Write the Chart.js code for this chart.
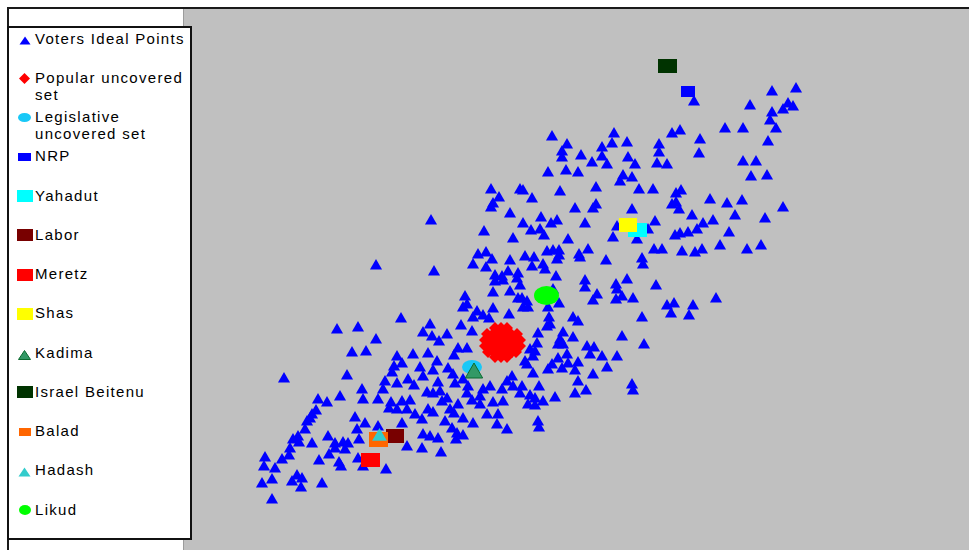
<!DOCTYPE html>
<html>
<head>
<meta charset="utf-8">
<title>Voters ideal points and party positions</title>
<script src="https://cdn.jsdelivr.net/npm/chart.js@4.4.1/dist/chart.umd.min.js"></script>
<style>
  html, body { margin: 0; padding: 0; background: #fff; }
  #page { position: relative; width: 969px; height: 550px; overflow: hidden; background: #fff; }
  #frameTop { position: absolute; left: 7px; top: 7px; width: 962px; height: 2px; background: #1a1a1a; }
  #frameLeft { position: absolute; left: 7px; top: 7px; width: 2px; height: 543px; background: #1a1a1a; }
  #plot { position: absolute; left: 183px; top: 9px; width: 786px; height: 541px; background: #c0c0c0; }
  #plotEdge { position: absolute; left: 183px; top: 9px; width: 1px; height: 541px; background: #9c9c9c; }
  #legend { position: absolute; left: 7px; top: 26px; width: 185px; height: 514px; box-sizing: border-box;
            border: 2px solid #111; background: #fff; }
  .item { position: absolute; left: 26px; width: 156px; font-family: "Liberation Sans", Arial, sans-serif;
          font-size: 15px; line-height: 17px; letter-spacing: 1.3px; color: #000; white-space: normal; }
  .mark { position: absolute; }
</style>
</head>
<body>
<div id="page">
  <div id="plot"><canvas id="chart" width="786" height="541"></canvas></div>
  <div id="plotEdge"></div>
  <div id="frameTop"></div>
  <div id="frameLeft"></div>
  <div id="legend"></div>
</div>
<script>
// Axis ranges (policy space units)
const xRange = [0, 786];
const yRange = [0, 541];

// Series names, in legend order
const seriesNames = [
  'Voters Ideal Points', 'Popular uncovered set', 'Legislative uncovered set',
  'NRP', 'Yahadut', 'Labor', 'Meretz', 'Shas', 'Kadima', 'Israel Beitenu', 'Balad', 'Hadash', 'Likud'
];

// Voter ideal points [x, y]
const voters = [
  [511,448],[589,458],[613,461],[567,444],[605,446],[610,443],[600,440],[589,437],[587,429],[593,421],
  [542,421],[560,421],[585,408],[369,413],[431,416],[489,416],[497,419],[517,410],[384,405],[429,406],
  [444,407],[476,405],[476,397],[516,396],[379,398],[379,392],[398,394],[419,402],[419,393],[409,387],
  [424,385],[445,392],[452,385],[474,386],[484,385],[560,388],[573,388],[365,377],[383,379],[395,377],
  [440,374],[437,368],[449,372],[568,373],[584,374],[340,359],[377,358],[413,362],[456,360],[470,360],
  [493,356],[498,359],[349,351],[527,350],[544,346],[559,349],[489,345],[493,347],[496,340],[392,341],
  [413,345],[410,341],[449,340],[600,342],[509,334],[552,334],[358,332],[374,329],[368,326],[340,326],
  [402,326],[472,328],[530,329],[520,326],[582,331],[434,323],[465,320],[348,319],[357,320],[361,314],
  [492,314],[497,316],[505,317],[514,320],[546,317],[385,310],[430,312],[454,310],[537,304],[564,300],
  [578,304],[405,300],[471,300],[479,300],[499,298],[512,297],[519,300],[364,298],[370,299],[376,299],
  [376,294],[374,290],[396,295],[397,292],[342,293],[351,292],[423,289],[459,291],[460,285],[349,283],
  [360,285],[362,280],[373,273],[402,269],[402,262],[433,265],[444,270],[473,264],[414,255],[410,249],
  [434,260],[433,250],[439,253],[450,251],[484,244],[491,246],[488,236],[510,244],[506,234],[533,251],
  [339,251],[344,248],[340,242],[345,242],[370,260],[376,246],[365,242],[366,232],[367,225],[364,223],
  [390,232],[395,228],[459,232],[355,216],[380,217],[377,210],[375,205],[380,205],[390,212],[354,206],
  [352,198],[347,200],[350,193],[439,213],[461,205],[404,203],[411,202],[407,195],[419,193],[434,193],
  [384,195],[395,187],[375,191],[369,185],[365,180],[379,181],[385,186],[392,179],[424,182],[342,188],
  [344,185],[350,176],[410,175],[395,168],[449,165],[450,159],[403,159],[392,156],[356,163],[339,163],
  [372,152],[347,154],[352,151],[360,148],[345,145],[352,144],[355,128],[356,122],[218,231],[154,220],
  [175,222],[193,210],[101,171],[164,174],[169,197],[183,198],[247,225],[240,217],[249,213],[264,215],
  [256,208],[278,224],[282,253],[284,245],[280,242],[294,238],[290,232],[300,234],[306,231],[310,257],
  [327,258],[335,251],[310,241],[326,235],[289,218],[275,201],[284,201],[271,194],[245,196],[254,188],
  [230,195],[214,193],[219,186],[211,183],[209,177],[237,182],[250,179],[240,173],[225,170],[231,164],
  [214,166],[202,168],[200,160],[255,167],[265,181],[270,175],[272,166],[280,170],[285,163],[179,160],
  [180,150],[157,153],[144,147],[135,150],[195,150],[208,147],[219,148],[227,149],[206,141],[214,140],
  [224,140],[232,135],[239,130],[244,157],[250,156],[257,158],[264,151],[259,148],[245,140],[250,137],
  [267,140],[275,145],[271,136],[284,156],[289,149],[297,153],[300,160],[307,163],[310,147],[320,148],
  [297,145],[304,135],[315,135],[280,131],[290,126],[319,160],[330,163],[337,156],[329,173],[324,168],
  [314,125],[324,120],[262,128],[269,121],[274,116],[280,114],[273,110],[240,115],[247,113],[255,111],
  [239,101],[224,103],[219,126],[258,97],[203,80],[172,132],[182,126],[174,120],[176,110],[145,113],
  [129,106],[122,120],[115,113],[110,110],[116,107],[107,101],[106,94],[99,90],[82,92],[81,83],
  [92,81],[79,66],[89,70],[109,68],[114,74],[119,71],[118,62],[139,66],[89,50],[136,89],
  [146,95],[152,101],[156,87],[158,83],[160,107],[165,106],[162,100],[175,91],[180,83],[152,106],
  [133,139],[129,135],[127,131],[124,128],[195,123],[308,360],[337,360],[316,352],[310,346],[308,342],
  [248,329],[327,336],[301,318],[330,311],[193,284],[251,278],[295,295],[303,297],[290,285],[309,290],
  [303,282],[327,289],[325,278],[335,276],[334,271],[312,274],[319,273],[312,268],[320,269],[337,264]
];

// Popular uncovered set [x, y]
const popularUncovered = [
  [312,222],[318,222],[324,222],
  [304,216],[310,216],[316,216],[322,216],[328,216],[334,216],
  [302,210],[308,210],[314,210],[320,210],[326,210],[332,210],[337,210],
  [302,204],[308,204],[314,204],[320,204],[326,204],[332,204],[337,204],
  [305,198],[311,198],[317,198],[323,198],[329,198],[333,198],
  [312,193],[318,193],[324,193]
];

// Legislative uncovered set [x, y]
const legislativeUncovered = [[289,183]];

// Party positions
const partyNames = ['NRP', 'Yahadut', 'Labor', 'Meretz', 'Shas', 'Kadima', 'Israel Beitenu', 'Balad', 'Hadash', 'Likud'];
const partyX = [505, 454, 212, 187.5, 445, 291, 484.5, 195.5, 196.5, 363.5];
const partyY = [459, 320, 114, 90, 325, 177, 484, 110.5, 113.5, 254.5];

// Marker styles per series: plot marker and legend marker
const markerStyle = {
  'Voters Ideal Points':       { shape: 'triangle', r: 7,  fill: '#0000ff', legend: [12, 9] },
  'Popular uncovered set':     { shape: 'diamond',  r: 6,  fill: '#ff0000', legend: [11, 11] },
  'Legislative uncovered set': { shape: 'ellipse',  size: [20, 14], fill: '#19c8f7', legend: [13, 9] },
  'NRP':            { shape: 'rect', size: [14, 11], fill: '#0000ff', legend: [13, 8] },
  'Yahadut':        { shape: 'rect', size: [19, 14], fill: '#00ffff', legend: [16, 12] },
  'Labor':          { shape: 'rect', size: [18, 14], fill: '#780000', legend: [16, 12] },
  'Meretz':         { shape: 'rect', size: [19, 14], fill: '#ff0000', legend: [16, 12] },
  'Shas':           { shape: 'rect', size: [18, 14], fill: '#ffff00', legend: [16, 12] },
  'Kadima':         { shape: 'triangle', r: 10, fill: '#339966', stroke: '#0b6b2e', legend: [13, 10] },
  'Israel Beitenu': { shape: 'rect', size: [19, 14], fill: '#003300', legend: [16, 12] },
  'Balad':          { shape: 'rect', size: [19, 15], fill: '#ff6600', legend: [12, 8] },
  'Hadash':         { shape: 'triangle', r: 8.5, fill: '#33cccc', legend: [13, 10] },
  'Likud':          { shape: 'ellipse', size: [25, 19], fill: '#00ff00', legend: [12, 10] }
};

function shapeCanvas(shape, w, h, fill, stroke) {
  const c = document.createElement('canvas');
  c.width = w; c.height = h;
  const g = c.getContext('2d');
  g.fillStyle = fill;
  g.beginPath();
  if (shape === 'rect') g.rect(0, 0, w, h);
  else if (shape === 'ellipse') g.ellipse(w / 2, h / 2, w / 2, h / 2, 0, 0, Math.PI * 2);
  else if (shape === 'triangle') { g.moveTo(w / 2, 0.5); g.lineTo(w - 0.5, h - 0.5); g.lineTo(0.5, h - 0.5); g.closePath(); }
  else if (shape === 'diamond') { g.moveTo(w / 2, 0); g.lineTo(w, h / 2); g.lineTo(w / 2, h); g.lineTo(0, h / 2); g.closePath(); }
  g.fill();
  if (stroke) { g.strokeStyle = stroke; g.lineWidth = 1; g.stroke(); }
  return c;
}

function pointOptions(name) {
  const s = markerStyle[name];
  if (s.shape === 'triangle') {
    return { pointStyle: 'triangle', pointRadius: s.r, backgroundColor: s.fill,
             borderColor: s.stroke || s.fill, borderWidth: s.stroke ? 1 : 0 };
  }
  if (s.shape === 'diamond') {
    return { pointStyle: 'rectRot', pointRadius: s.r, backgroundColor: s.fill, borderWidth: 0 };
  }
  return { pointStyle: shapeCanvas(s.shape, s.size[0], s.size[1], s.fill), pointRadius: s.size[0] / 2,
           backgroundColor: s.fill, borderWidth: 0 };
}

const toPoints = arr => arr.map(([x, y]) => ({ x, y }));
const seriesData = {
  'Voters Ideal Points': toPoints(voters),
  'Popular uncovered set': toPoints(popularUncovered),
  'Legislative uncovered set': toPoints(legislativeUncovered)
};
partyNames.forEach((n, i) => { seriesData[n] = [{ x: partyX[i], y: partyY[i] }]; });

// Later series are drawn on top of earlier ones
const datasets = seriesNames.map((name, i) => Object.assign({
  label: name,
  data: seriesData[name],
  showLine: false,
  order: seriesNames.length - i,
  pointHoverRadius: 0
}, pointOptions(name)));

new Chart(document.getElementById('chart'), {
  type: 'scatter',
  data: { datasets },
  options: {
    responsive: false,
    animation: false,
    events: [],
    layout: { padding: 0, autoPadding: false },
    plugins: { legend: { display: false }, tooltip: { enabled: false } },
    scales: {
      x: { type: 'linear', min: xRange[0], max: xRange[1], display: false },
      y: { type: 'linear', min: yRange[0], max: yRange[1], display: false }
    }
  }
});

// Legend panel
const legend = document.getElementById('legend');
const legendOrigin = [9, 28];
seriesNames.forEach((name, i) => {
  const s = markerStyle[name];
  const lineCenter = 38 + i * 39.25;
  const item = document.createElement('div');
  item.className = 'item';
  item.style.top = (lineCenter - 8.5 - legendOrigin[1]) + 'px';
  item.textContent = name;
  legend.appendChild(item);

  const [w, h] = s.legend;
  const mk = shapeCanvas(s.shape, w, h, s.fill, s.stroke);
  mk.className = 'mark';
  const cy = lineCenter + (s.shape === 'triangle' ? 2.5 : 1);
  mk.style.left = Math.round(24.5 - w / 2 - legendOrigin[0]) + 'px';
  mk.style.top = Math.round(cy - h / 2 - legendOrigin[1]) + 'px';
  legend.appendChild(mk);
});
</script>
</body>
</html>
